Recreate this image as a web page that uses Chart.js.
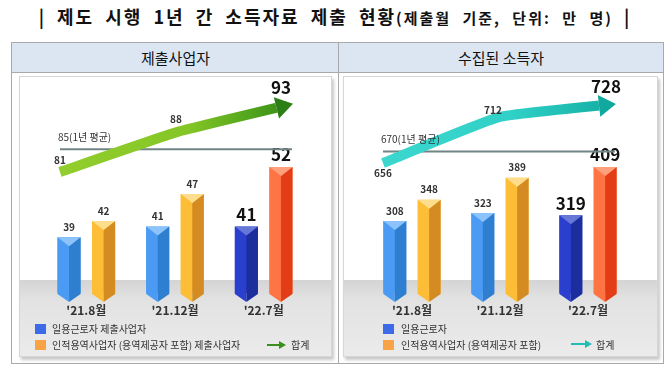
<!DOCTYPE html>
<html>
<head>
<meta charset="utf-8">
<script src="https://cdn.jsdelivr.net/npm/chart.js@4/dist/chart.umd.min.js"></script>
<style>
body{margin:0;width:670px;height:373px;background:#fff;position:relative;overflow:hidden;font-family:"Noto Sans CJK KR",sans-serif;color:#222}
#title{position:absolute;left:0;top:3px;width:670px;text-align:center;font-weight:bold;font-size:18px;line-height:26px;letter-spacing:2px;word-spacing:5px;white-space:nowrap;color:#111}
#title .sub{font-size:15px;letter-spacing:2px;word-spacing:6px}
#table{position:absolute;left:11px;top:42px;width:653px;height:322px;box-sizing:border-box;border:1px solid #a9a9a9}
.head{position:absolute;top:0;height:30px;line-height:30px;background:#dce6f2;border-bottom:1px solid #a9a9a9;text-align:center;font-size:15px;color:#111;box-sizing:border-box}
#divider{position:absolute;left:326px;top:0;width:1px;height:100%;background:#a9a9a9}
.panel{position:absolute;top:76px;height:281px;box-sizing:border-box;border:1px solid #d6d6d6;box-shadow:2px 3px 3px rgba(0,0,0,0.22);background:#fff}
.panel canvas{position:absolute;left:0;top:0}
.lg{position:absolute;font-size:10px;line-height:12px;color:#333;white-space:nowrap}
.sq{position:absolute;width:11px;height:10px}
</style>
</head>
<body>
<div id="title">| 제도 시행 1년 간 소득자료 제출 현황<span class="sub">(제출월 기준, 단위: 만 명)</span> |</div>
<div id="table">
  <div class="head" style="left:0;width:327px">제출사업자</div>
  <div class="head" style="left:327px;width:324px">수집된 소득자</div>
  <div id="divider"></div>
</div>
<div class="panel" style="left:19px;width:313px">
  <canvas id="leftBars" width="311" height="279"></canvas>
  <canvas id="leftTrend" width="311" height="279"></canvas>
</div>
<div class="panel" style="left:343px;width:315px">
  <canvas id="rightBars" width="313" height="279"></canvas>
  <canvas id="rightTrend" width="313" height="279"></canvas>
</div>

<div class="sq" style="left:35px;top:324px;background:#3d6ae6"></div>
<div class="lg" style="left:52px;top:323px">일용근로자 제출사업자</div>
<div class="sq" style="left:35px;top:340px;background:#f9a246"></div>
<div class="lg" style="left:52px;top:339px">인적용역사업자 (용역제공자 포함) 제출사업자</div>
<svg style="position:absolute;left:267px;top:340px" width="20" height="10"><line x1="0" y1="5" x2="14" y2="5" stroke="#3a8f1f" stroke-width="2"/><path d="M12 1 L19 5 L12 9 Z" fill="#3a8f1f"/></svg>
<div class="lg" style="left:291px;top:339px">합계</div>

<div class="sq" style="left:383px;top:324px;background:#3d6ae6"></div>
<div class="lg" style="left:401px;top:323px">일용근로자</div>
<div class="sq" style="left:383px;top:340px;background:#f9a246"></div>
<div class="lg" style="left:401px;top:339px">인적용역사업자 (용역제공자 포함)</div>
<svg style="position:absolute;left:571px;top:339px" width="22" height="10"><line x1="0" y1="5" x2="16" y2="5" stroke="#1fbdb3" stroke-width="2"/><path d="M14 1 L21 5 L14 9 Z" fill="#1fbdb3"/></svg>
<div class="lg" style="left:596px;top:339px">합계</div>

<script>
// 단위: 만 명
const categories = ["'21.8월", "'21.12월", "'22.7월"];

const employersDaily = [39, 41, 41];
const employersService = [42, 47, 52];
const employersTotal = [81, 88, 93];
const employersAvg = 85;

const earnersDaily = [308, 323, 319];
const earnersService = [348, 389, 409];
const earnersTotal = [656, 712, 728];
const earnersAvg = 670;

const FONT = '"Noto Sans CJK KR", sans-serif';
const AREA_TOP = 9, AXIS_H = 54, FLOOR_TOP = 203;

const blueFaces = [
  {front: '#4b9bf4', side: '#2e7fcf', cap: '#8cc3fa'},
  {front: '#4b9bf4', side: '#2e7fcf', cap: '#8cc3fa'},
  {front: '#2b3fcf', side: '#1c2e9e', cap: '#6777d6'}
];
const orangeFaces = [
  {front: '#fdbd36', side: '#d38b22', cap: '#fedd8c'},
  {front: '#fdbd36', side: '#d38b22', cap: '#fedd8c'},
  {front: '#ff7443', side: '#e33d17', cap: '#ffa07c'}
];

function poly(ctx, pts, color) {
  ctx.beginPath();
  ctx.moveTo(pts[0][0], pts[0][1]);
  for (let i = 1; i < pts.length; i++) ctx.lineTo(pts[i][0], pts[i][1]);
  ctx.closePath();
  ctx.fillStyle = color;
  ctx.fill();
}

// floor, prism-shaped bars and their value labels
const barPlugin = {
  id: 'prism',
  beforeDraw(chart) {
    const {ctx, width, height} = chart;
    const g = ctx.createLinearGradient(0, FLOOR_TOP, 0, height);
    g.addColorStop(0, '#d4d4d4');
    g.addColorStop(0.25, '#e2e2e2');
    g.addColorStop(1, '#ebebeb');
    ctx.save();
    ctx.fillStyle = g;
    ctx.fillRect(0, FLOOR_TOP, width, height - FLOOR_TOP);
    ctx.restore();
    chart.$floor = g;
  },
  afterDatasetDraw(chart, args) {
    const ds = chart.data.datasets[args.index];
    const ctx = chart.ctx;
    const bottom = chart.chartArea.bottom;
    args.meta.data.forEach((bar, i) => {
      const f = ds.faces[i];
      const l = bar.x - bar.width / 2, r = bar.x + bar.width / 2, c = bar.x;
      const t = bar.y, b = Math.min(bar.base, bottom), cap = 9, tip = 8;
      ctx.save();
      ctx.fillStyle = chart.$floor;
      ctx.fillRect(l - 1, b - tip - 1, r - l + 2, tip + 2);
      poly(ctx, [[l, t], [c, t + cap], [c, b], [l, b - tip]], f.front);
      poly(ctx, [[c, t + cap], [r, t], [r, b - tip], [c, b]], f.side);
      poly(ctx, [[l, t], [r, t], [c, t + cap]], f.cap);
      ctx.restore();
    });
  },
  afterDraw(chart) {
    const ctx = chart.ctx;
    ctx.save();
    ctx.textAlign = 'center';
    ctx.textBaseline = 'middle';
    chart.data.datasets.forEach((ds, di) => {
      chart.getDatasetMeta(di).data.forEach((bar, i) => {
        const big = i === categories.length - 1;
        ctx.font = big ? 'bold 17px ' + FONT : 'bold 10px ' + FONT;
        ctx.fillStyle = big ? '#111' : '#333';
        ctx.fillText(ds.data[i], bar.x, bar.y - (big ? 12 : 10));
      });
    });
    ctx.restore();
  }
};

function arrowGeom(meta) {
  const pts = meta.data;
  const p = pts[pts.length - 1];
  let rx = pts[pts.length - 2].x, ry = pts[pts.length - 2].y;
  if (p.cp1x !== undefined && !isNaN(p.cp1x)) { rx = p.cp1x; ry = p.cp1y; }
  let dx = p.x - rx, dy = p.y - ry;
  const len = Math.hypot(dx, dy);
  dx /= len; dy /= len;
  return {p, dx, dy, bx: p.x - dx * 16, by: p.y - dy * 16};
}

// arrow head on the total line, its labels and the average label
const trendPlugin = {
  id: 'trend',
  beforeDatasetDraw(chart, args) {
    const ds = chart.data.datasets[args.index];
    if (!ds.arrow) return;
    const a = arrowGeom(args.meta);
    const ctx = chart.ctx;
    const nx = -a.dy, ny = a.dx;
    ctx.save();
    ctx.beginPath();
    ctx.moveTo(a.bx + nx * 1000, a.by + ny * 1000);
    ctx.lineTo(a.bx + nx * 1000 - a.dx * 2000, a.by + ny * 1000 - a.dy * 2000);
    ctx.lineTo(a.bx - nx * 1000 - a.dx * 2000, a.by - ny * 1000 - a.dy * 2000);
    ctx.lineTo(a.bx - nx * 1000, a.by - ny * 1000);
    ctx.closePath();
    ctx.clip();
  },
  afterDatasetDraw(chart, args) {
    const ds = chart.data.datasets[args.index];
    if (!ds.arrow) return;
    const ctx = chart.ctx;
    ctx.restore();
    const a = arrowGeom(args.meta);
    const nx = -a.dy, ny = a.dx;
    poly(ctx, [[a.p.x + a.dx, a.p.y + a.dy], [a.bx + nx * 11, a.by + ny * 11], [a.bx - nx * 11, a.by - ny * 11]], ds.arrow);
  },
  afterDraw(chart, args, o) {
    const ctx = chart.ctx;
    ctx.save();
    ctx.textBaseline = 'middle';
    chart.data.datasets.forEach((ds, di) => {
      const meta = chart.getDatasetMeta(di);
      if (ds.arrow) {
        ctx.textAlign = 'center';
        meta.data.forEach((pt, i) => {
          const big = i === meta.data.length - 1;
          ctx.font = big ? 'bold 17px ' + FONT : 'bold 10px ' + FONT;
          ctx.fillStyle = big ? '#111' : '#333';
          ctx.fillText(ds.data[i].y, pt.x + o.dx[i], pt.y + o.dy[i]);
        });
      } else {
        const pt = meta.data[0];
        ctx.font = '10px ' + FONT;
        ctx.fillStyle = '#333';
        ctx.textAlign = 'left';
        ctx.fillText(ds.data[0].y + '(1년 평균)', pt.x - 2, pt.y - 12);
      }
    });
    ctx.restore();
  }
};

function lineGradient(stops) {
  return (c) => {
    const {chart} = c;
    const area = chart.chartArea;
    if (!area) return stops[0][1];
    const g = chart.ctx.createLinearGradient(area.left, 0, area.right, 0);
    stops.forEach(s => g.addColorStop(s[0], s[1]));
    return g;
  };
}

function makeBars(id, daily, service, cfg) {
  return new Chart(document.getElementById(id), {
    type: 'bar',
    data: {
      labels: categories,
      datasets: [
        {label: cfg.names[0], data: daily, faces: blueFaces, backgroundColor: blueFaces.map(f => f.front)},
        {label: cfg.names[1], data: service, faces: orangeFaces, backgroundColor: orangeFaces.map(f => f.front)}
      ]
    },
    options: {
      responsive: false,
      animation: false,
      events: [],
      layout: {padding: {left: cfg.padL, right: cfg.padR, top: AREA_TOP, bottom: 0}},
      datasets: {bar: {categoryPercentage: 0.78, barPercentage: 0.667}},
      scales: {
        x: {
          grid: {display: false, drawTicks: false}, border: {display: false},
          ticks: {padding: 1, color: '#333', font: {family: FONT, size: 12, weight: 'bold'}},
          afterFit: (s) => { s.height = AXIS_H; }
        },
        y: {display: false, min: cfg.yMin, max: cfg.yMax}
      },
      plugins: {legend: {display: false}, tooltip: {enabled: false}}
    },
    plugins: [barPlugin]
  });
}

function makeTrend(id, total, avg, cfg) {
  return new Chart(document.getElementById(id), {
    type: 'line',
    data: {
      datasets: [
        {
          label: '합계', arrow: cfg.arrowColor,
          data: total.map((v, i) => ({x: i, y: v})),
          borderColor: lineGradient(cfg.stops), borderWidth: 10, borderCapStyle: 'butt',
          tension: 0.12, pointRadius: 0, fill: false
        },
        {
          label: '1년 평균',
          data: [{x: 0, y: avg}, {x: categories.length - 1, y: avg}],
          borderColor: '#718486', borderWidth: 2, pointRadius: 0, fill: false
        }
      ]
    },
    options: {
      responsive: false,
      animation: false,
      events: [],
      layout: {padding: {left: cfg.padL, right: cfg.padR, top: AREA_TOP, bottom: AXIS_H}},
      scales: {
        x: {type: 'linear', display: false, offset: false, min: cfg.xMin, max: cfg.xMax},
        y: {display: false, min: cfg.tMin, max: cfg.tMax}
      },
      plugins: {
        legend: {display: false},
        tooltip: {enabled: false},
        trend: {dx: cfg.labelDx, dy: cfg.labelDy}
      }
    },
    plugins: [trendPlugin]
  });
}

const leftCfg = {
  names: ['일용근로자 제출사업자', '인적용역사업자 (용역제공자 포함) 제출사업자'],
  padL: 22, padR: 23,
  yMin: 27, yMax: 67,
  xMin: -0.155, xMax: 2.138,
  tMin: 58, tMax: 96.2,
  labelDx: [0, 0, -11], labelDy: [-12, -13, -17],
  arrowColor: '#2b7f14',
  stops: [[0, '#94cf2e'], [0.55, '#84c626'], [0.8, '#4ea21c'], [1, '#2b7f14']]
};
const rightCfg = {
  names: ['일용근로자', '인적용역사업자 (용역제공자 포함)'],
  padL: 24, padR: 25,
  yMin: 157, yMax: 560,
  xMin: -0.129, xMax: 2.147,
  tMin: 486.3, tMax: 750,
  labelDx: [0, -6, -9], labelDy: [10, -7, -17],
  arrowColor: '#11a89d',
  stops: [[0, '#3dd8d0'], [0.55, '#30d0c7'], [0.8, '#1cb9ae'], [1, '#11a89d']]
};

makeBars('leftBars', employersDaily, employersService, leftCfg);
makeTrend('leftTrend', employersTotal, employersAvg, leftCfg);
makeBars('rightBars', earnersDaily, earnersService, rightCfg);
makeTrend('rightTrend', earnersTotal, earnersAvg, rightCfg);
</script>
</body>
</html>
